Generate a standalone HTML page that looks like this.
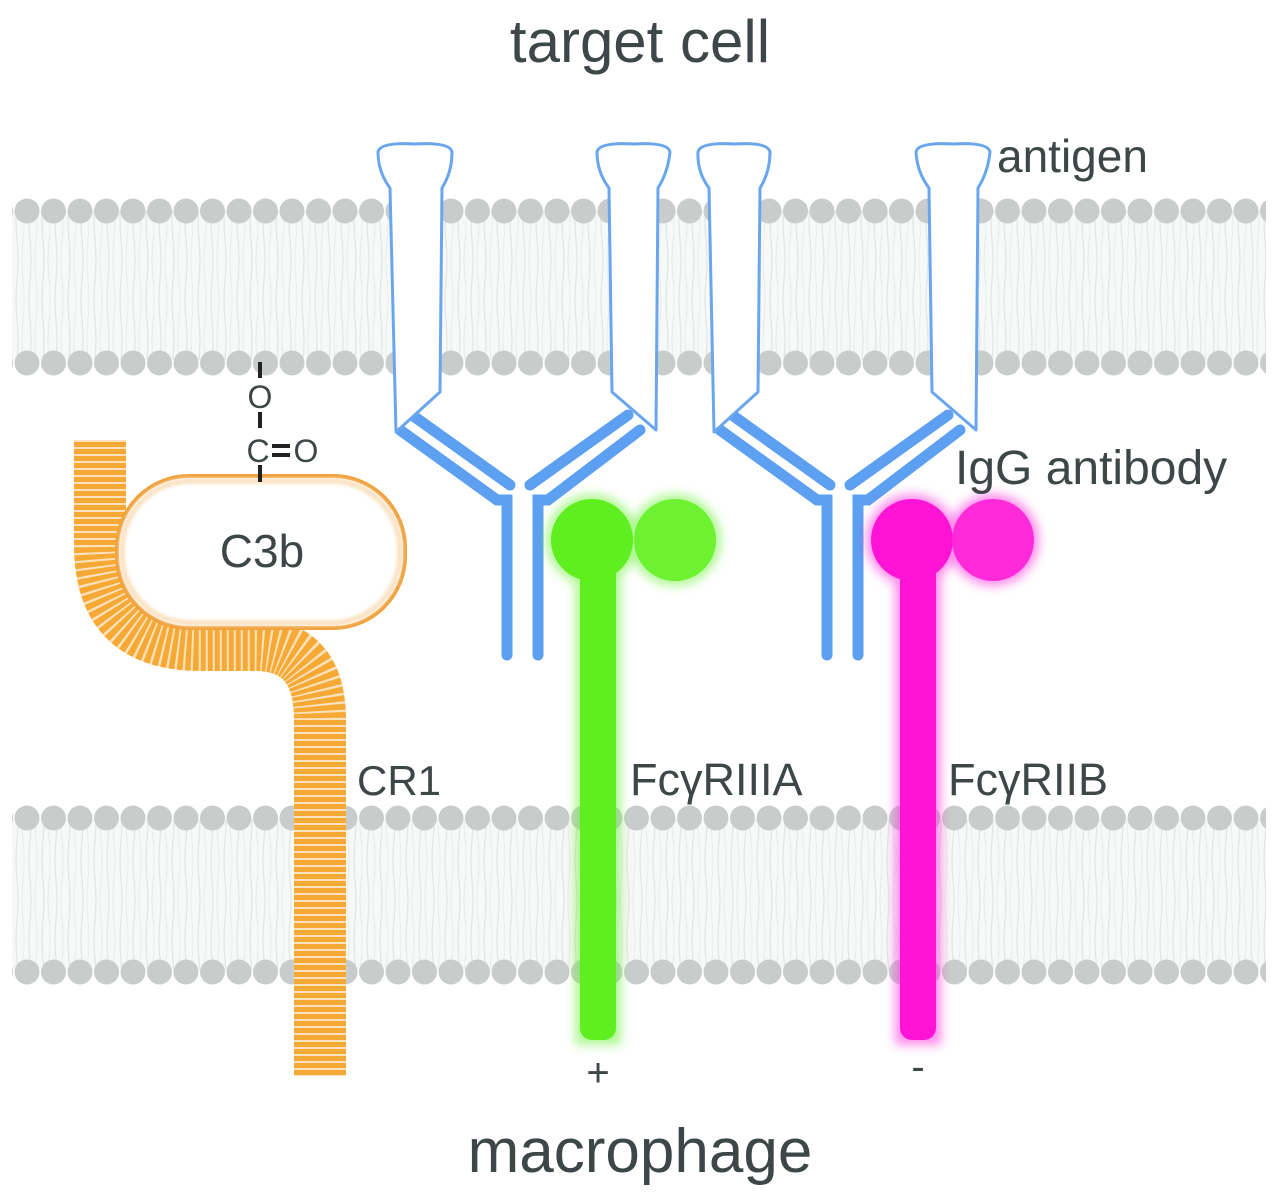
<!DOCTYPE html>
<html><head><meta charset="utf-8"><style>
html,body{margin:0;padding:0;background:#fff}
svg{display:block}
text{font-family:"Liberation Sans",sans-serif;fill:#3d4747}
</style></head><body>
<svg width="1280" height="1200" viewBox="0 0 1280 1200" xmlns="http://www.w3.org/2000/svg">
<defs>
<pattern id="h1" x="14" y="196" width="26.5" height="30" patternUnits="userSpaceOnUse"><circle cx="13" cy="15" r="12.5" fill="#c8cdcc"/></pattern>
<pattern id="h2" x="14" y="348" width="26.5" height="30" patternUnits="userSpaceOnUse"><circle cx="13" cy="15" r="12.5" fill="#c8cdcc"/></pattern>
<pattern id="h3" x="14" y="803" width="26.5" height="30" patternUnits="userSpaceOnUse"><circle cx="13" cy="15" r="12.5" fill="#c8cdcc"/></pattern>
<pattern id="h4" x="14" y="957" width="26.5" height="30" patternUnits="userSpaceOnUse"><circle cx="13" cy="15" r="12.5" fill="#c8cdcc"/></pattern>
<pattern id="tails" x="0" y="0" width="13" height="80" patternUnits="userSpaceOnUse">
<path d="M4 0 Q6 20 4 40 Q2 60 4 80" stroke="#e2e5e5" stroke-width="1.2" fill="none"/>
<path d="M10 0 Q8 20 10 40 Q12 60 10 80" stroke="#e9ebeb" stroke-width="1" fill="none"/>
</pattern>
<filter id="glow" x="-50%" y="-50%" width="200%" height="200%"><feGaussianBlur stdDeviation="5"/></filter>
<filter id="soft" x="-20%" y="-20%" width="140%" height="140%"><feGaussianBlur stdDeviation="1.5"/></filter>
</defs>

<rect x="12" y="210" width="1254" height="150" fill="#f7f8f8"/>
<rect x="12" y="210" width="1254" height="150" fill="url(#tails)"/>
<rect x="12" y="196" width="1254" height="30" fill="url(#h1)"/>
<rect x="12" y="348" width="1254" height="30" fill="url(#h2)"/>
<rect x="12" y="820" width="1254" height="150" fill="#f7f8f8"/>
<rect x="12" y="820" width="1254" height="150" fill="url(#tails)"/>
<rect x="12" y="803" width="1254" height="30" fill="url(#h3)"/>
<rect x="12" y="957" width="1254" height="30" fill="url(#h4)"/>

<g stroke="#5d9ff0" stroke-width="11" stroke-linecap="round" fill="none">
<path d="M400 430 L497 500 L507 500 L507 655"/>
<path d="M412 415 L510 485"/>
<path d="M640 430 L548 500 L538 500 L538 655"/>
<path d="M628 415 L530 485"/>
<path d="M720 430 L817 500 L827 500 L827 655"/>
<path d="M732 415 L830 485"/>
<path d="M960 430 L868 500 L858 500 L858 655"/>
<path d="M948 415 L850 485"/>
</g>

<g fill="#fff" stroke="#6aa6ee" stroke-width="3" stroke-linejoin="round">
<path d="M378 152 Q380 142 415 144 Q450 142 452 152 Q452 172 442 188 L440 392 L396 432 L390 188 Q378 172 378 152Z"/>
<path d="M597 152 Q599 142 634 144 Q668 142 670 152 Q668 172 658 188 L656 430 L612 392 L609 188 Q597 172 597 152Z"/>
<path d="M698 152 Q700 142 735 144 Q768 142 770 152 Q770 172 760 188 L758 392 L714 432 L709 188 Q697 172 698 152Z"/>
<path d="M916 152 Q918 142 953 144 Q988 142 990 152 Q988 172 978 188 L976 430 L932 392 L929 188 Q917 172 916 152Z"/>
</g>

<path d="M100 440 L100 545 Q100 645 200 645 L255 645 Q320 645 320 720 L320 1076" stroke="#f6a935" stroke-width="52" fill="none"/>
<path d="M100 440 L100 545 Q100 645 200 645 L255 645 Q320 645 320 720 L320 1076" stroke="#fde2bd" stroke-width="52" fill="none" stroke-dasharray="2 5"/>

<rect x="117" y="476" width="288" height="152" rx="72" ry="72" fill="#fff" stroke="#f0a13c" stroke-width="4"/>
<rect x="122" y="481" width="278" height="142" rx="68" fill="none" stroke="#fbe3c4" stroke-width="6" filter="url(#soft)"/>
<text x="262" y="567" font-size="46" text-anchor="middle">C3b</text>

<g stroke="#222" stroke-width="4">
<line x1="260" y1="362" x2="260" y2="378"/>
<line x1="260" y1="412" x2="260" y2="428"/>
<line x1="260" y1="465" x2="260" y2="482"/>
<line x1="272" y1="446" x2="290" y2="446"/>
<line x1="272" y1="455" x2="290" y2="455"/>
</g>
<text x="260" y="408" font-size="32" text-anchor="middle" fill="#222">O</text>
<text x="258" y="462" font-size="32" text-anchor="middle" fill="#222">C</text>
<text x="306" y="462" font-size="32" text-anchor="middle" fill="#222">O</text>

<g filter="url(#glow)" opacity="0.5">
<circle cx="592" cy="540" r="46" fill="#62f02a"/><circle cx="675" cy="540" r="46" fill="#62f02a"/>
<rect x="575" y="570" width="46" height="475" fill="#62f02a"/>
</g>
<rect x="580" y="560" width="36" height="480" rx="12" fill="#5fee1f"/>
<circle cx="592" cy="540" r="41" fill="#5fee1f"/>
<circle cx="675" cy="540" r="41" fill="#6cf230"/>

<g filter="url(#glow)" opacity="0.5">
<circle cx="912" cy="540" r="46" fill="#ff1dd8"/><circle cx="993" cy="540" r="46" fill="#ff1dd8"/>
<rect x="895" y="570" width="46" height="475" fill="#ff1dd8"/>
</g>
<rect x="900" y="560" width="36" height="480" rx="12" fill="#ff14d6"/>
<circle cx="912" cy="540" r="41" fill="#ff14d6"/>
<circle cx="993" cy="540" r="41" fill="#ff2ad9"/>

<text x="640" y="62" font-size="60" text-anchor="middle">target cell</text>
<text x="997" y="172" font-size="46">antigen</text>
<text x="955" y="484" font-size="48">IgG antibody</text>
<text x="357" y="795" font-size="42">CR1</text>
<text x="630" y="795" font-size="45">FcγRIIIA</text>
<text x="948" y="795" font-size="45">FcγRIIB</text>
<text x="598" y="1086" font-size="40" text-anchor="middle">+</text>
<text x="918" y="1080" font-size="40" text-anchor="middle">-</text>
<text x="640" y="1172" font-size="62" text-anchor="middle">macrophage</text>
</svg>
</body></html>
